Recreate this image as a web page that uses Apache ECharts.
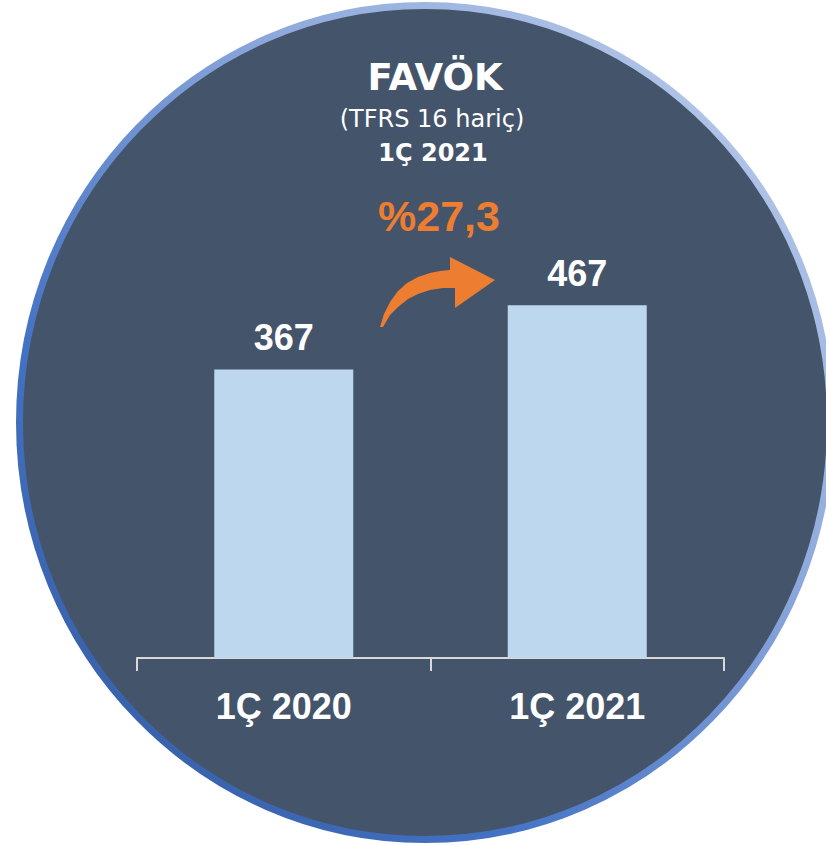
<!DOCTYPE html>
<html>
<head>
<meta charset="utf-8">
<script src="https://cdn.jsdelivr.net/npm/echarts@6/dist/echarts.min.js"></script>
<style>
  html, body { margin: 0; padding: 0; background: #ffffff; }
  #favokChart { width: 826px; height: 845px; }
</style>
</head>
<body>
<div id="favokChart"></div>
<script>
// data
const categories = ['1Ç 2020', '1Ç 2021']
const favokValues = [367, 467]
const titleLines = ['FAVÖK', '(TFRS 16 hariç)', '1Ç 2021']
const changeLabel = '%27,3'
// the bars in the picture do not start from zero
const axisMin = -82
const axisMax = 900

// outline of the orange curved arrow (decoration only)
const arrowPoints = [
  [380, 327], [384, 314], [390, 302], [398, 291], [407, 283], [418, 277],
  [430, 273], [440, 271], [450, 270], [450, 257], [495, 280], [455, 308],
  [455, 288], [443, 288], [430, 290], [418, 294], [408, 299], [398, 307],
  [390, 315], [383, 327]
]

const chart = echarts.init(document.getElementById('favokChart'), null, { renderer: 'svg' })

chart.setOption({
  backgroundColor: '#ffffff',
  animation: false,
  grid: {
    left: 137,
    right: 102,
    top: 27,
    bottom: 187
  },
  xAxis: {
    type: 'category',
    data: categories,
    axisLine: {
      show: true,
      onZero: false,
      lineStyle: { color: '#D9D9D9', width: 2 }
    },
    // ticks between the bars, pointing down
    axisTick: {
      show: true,
      length: 13,
      lineStyle: { color: '#D9D9D9', width: 2 }
    },
    axisLabel: {
      margin: 30,
      color: '#ffffff',
      fontFamily: 'Liberation Sans',
      fontWeight: 'bold',
      fontSize: 36
    }
  },
  yAxis: {
    type: 'value',
    min: axisMin,
    max: axisMax,
    startValue: axisMin,
    show: false,
    splitLine: { show: false }
  },
  graphic: [
    // the round background
    {
      type: 'ellipse',
      z: -10,
      silent: true,
      shape: { cx: 425, cy: 422.5, rx: 405.5, ry: 417 },
      style: {
        fill: '#44546A',
        lineWidth: 7,
        stroke: new echarts.graphic.LinearGradient(0, 1, 1, 0, [
          { offset: 0, color: '#2F5597' },
          { offset: 0.3, color: '#4472C4' },
          { offset: 0.65, color: '#8FAADC' },
          { offset: 1, color: '#C5D3EE' }
        ])
      }
    },
    {
      type: 'text',
      z: 10,
      x: 435,
      y: 77.5,
      style: {
        text: titleLines[0],
        fill: '#ffffff',
        font: 'bold 37px "DejaVu Sans"',
        textAlign: 'center',
        textVerticalAlign: 'middle'
      }
    },
    {
      type: 'text',
      z: 10,
      x: 432,
      y: 118.5,
      style: {
        text: titleLines[1],
        fill: '#ffffff',
        font: '24px "DejaVu Sans"',
        textAlign: 'center',
        textVerticalAlign: 'middle'
      }
    },
    {
      type: 'text',
      z: 10,
      x: 433,
      y: 153,
      style: {
        text: titleLines[2],
        fill: '#ffffff',
        font: 'bold 24px "DejaVu Sans"',
        textAlign: 'center',
        textVerticalAlign: 'middle'
      }
    },
    {
      type: 'text',
      z: 10,
      x: 439,
      y: 216,
      style: {
        text: changeLabel,
        fill: '#ED7D31',
        font: 'bold 43px "Liberation Sans"',
        textAlign: 'center',
        textVerticalAlign: 'middle'
      }
    },
    // curved arrow between the bars
    {
      type: 'polygon',
      z: 10,
      silent: true,
      shape: { points: arrowPoints },
      style: { fill: '#ED7D31' }
    }
  ],
  series: [
    {
      name: 'FAVÖK',
      type: 'bar',
      data: favokValues,
      barWidth: 139,
      itemStyle: { color: '#BDD7EE' },
      label: {
        show: true,
        position: 'top',
        distance: 14,
        color: '#ffffff',
        fontFamily: 'Liberation Sans',
        fontWeight: 'bold',
        fontSize: 36
      }
    }
  ]
})
</script>
</body>
</html>
